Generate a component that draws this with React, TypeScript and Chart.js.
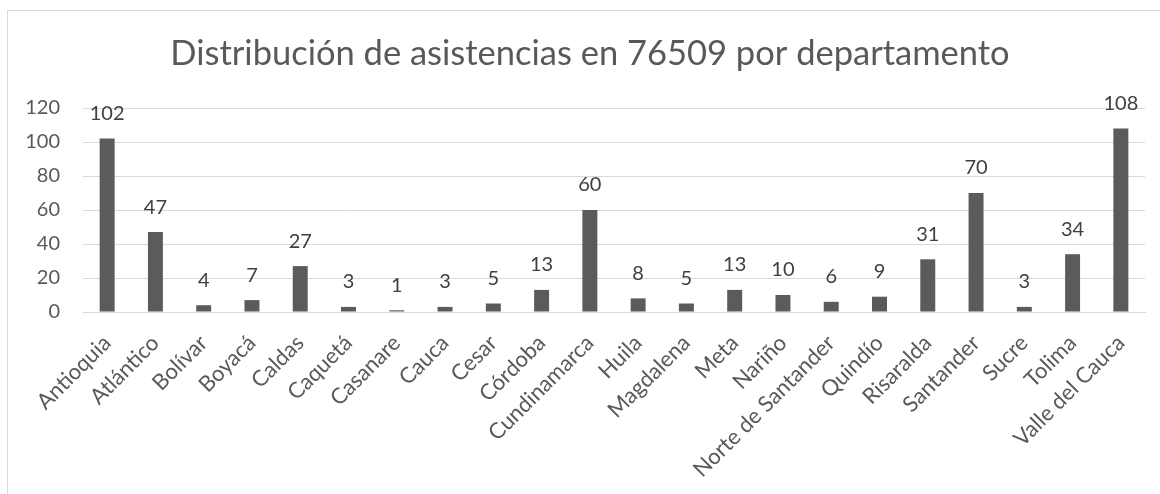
import React, { useEffect, useRef } from "react";
import { Chart, registerables } from "chart.js";

Chart.register(...registerables);

const TITLE = "Distribución de asistencias en 76509 por departamento";
const categories = [
  "Antioquia", "Atlántico", "Bolívar", "Boyacá", "Caldas", "Caquetá", "Casanare", "Cauca",
  "Cesar", "Córdoba", "Cundinamarca", "Huila", "Magdalena", "Meta", "Nariño",
  "Norte de Santander", "Quindío", "Risaralda", "Santander", "Sucre", "Tolima", "Valle del Cauca",
];
const values = [102, 47, 4, 7, 27, 3, 1, 3, 5, 13, 60, 8, 5, 13, 10, 6, 9, 31, 70, 3, 34, 108];
const yTicks = [0, 20, 40, 60, 80, 100, 120];

const FONT = "Lato, 'Open Sans', sans-serif";

const titlePlugin = {
  id: "customTitle",
  afterDraw(chart: any) {
    const ctx = chart.ctx;
    ctx.save();
    ctx.font = `34.5px ${FONT}`;
    ctx.fillStyle = "#595959";
    ctx.textAlign = "center";
    ctx.textBaseline = "alphabetic";
    ctx.fillText(TITLE, 590, 65);
    ctx.restore();
  },
};

const labelPlugin = {
  id: "valueLabels",
  afterDatasetsDraw(chart: any) {
    const ctx = chart.ctx;
    const meta = chart.getDatasetMeta(0);
    ctx.save();
    ctx.font = `20px ${FONT}`;
    ctx.fillStyle = "#404040";
    ctx.textAlign = "center";
    ctx.textBaseline = "bottom";
    meta.data.forEach((bar: any, i: number) => {
      ctx.fillText(String(values[i]), bar.x, bar.y - 15);
    });
    ctx.restore();
  },
};

export default function App() {
  const ref = useRef<HTMLCanvasElement>(null);
  useEffect(() => {
    if (!ref.current) return;
    const chart = new Chart(ref.current, {
      type: "bar",
      data: {
        labels: categories,
        datasets: [
          {
            data: values,
            backgroundColor: "#5b5b5b",
            barPercentage: 0.31,
            categoryPercentage: 1,
          },
        ],
      },
      options: {
        animation: false,
        responsive: false,
        layout: { padding: { top: 108, bottom: 0, left: 0, right: 15 } },
        plugins: {
          legend: { display: false },
          title: { display: false },
          tooltip: { enabled: false },
        },
        scales: {
          x: {
            grid: { display: false, drawTicks: false },
            border: { display: true, color: "#d9d9d9", width: 1 },
            ticks: {
              maxRotation: 45,
              minRotation: 45,
              autoSkip: false,
              padding: 18,
              color: "#595959",
              font: { family: FONT, size: 22 },
            },
            afterFit(scale: any) {
              scale.height = 182;
            },
          },
          y: {
            min: 0,
            max: 120,
            afterBuildTicks(scale: any) {
              scale.ticks = yTicks.map((v) => ({ value: v }));
            },
            grid: { color: "#d9d9d9", drawTicks: false, lineWidth: 1 },
            border: { display: false },
            ticks: {
              padding: 23,
              color: "#595959",
              font: { family: FONT, size: 20 },
            },
            afterFit(scale: any) {
              scale.width = 83;
            },
          },
        },
      },
      plugins: [titlePlugin, labelPlugin],
    });
    return () => chart.destroy();
  }, []);

  return (
    <div
      style={{
        position: "fixed",
        left: 0,
        top: 0,
        width: 1160,
        height: 494,
        overflow: "hidden",
        background: "#ffffff",
      }}
    >
      <div
        style={{
          position: "absolute",
          left: 7,
          top: 10,
          width: 1300,
          height: 700,
          border: "1px solid #d9d9d9",
        }}
      />
      <canvas
        ref={ref}
        width={1160}
        height={494}
        style={{ position: "absolute", left: 0, top: 0, width: 1160, height: 494 }}
      />
    </div>
  );
}
